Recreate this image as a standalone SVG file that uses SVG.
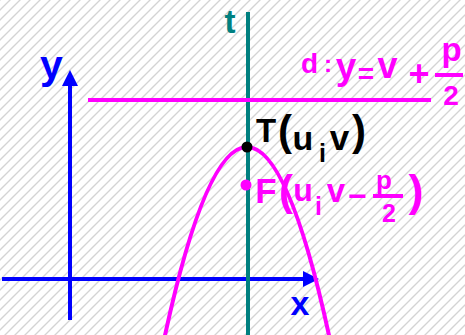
<svg xmlns="http://www.w3.org/2000/svg" width="465" height="335" viewBox="0 0 465 335">
<style>
text{font-family:"Liberation Sans","DejaVu Sans",sans-serif;font-weight:bold;text-anchor:middle}
.blue{fill:#0000ff}
.mag{fill:#ff00ff}
.blk{fill:#000000}
.teal{fill:#008080}
</style>
<defs>
<pattern id="hatch" patternUnits="userSpaceOnUse" width="10" height="10">
<path d="M-1,11 L11,-1 M-6,6 L6,-6 M4,16 L16,4" stroke="#d4d4d4" stroke-width="1.4"/>
</pattern>
<marker id="arr" viewBox="0 0 16 16" refX="0" refY="8" markerWidth="16" markerHeight="16" markerUnits="userSpaceOnUse" orient="auto">
<path d="M0,0 L16,8 L0,16 Z" fill="#0000ff"/>
</marker>
</defs>
<rect width="465" height="335" fill="#ffffff"/>
<rect width="465" height="335" fill="url(#hatch)"/>
<g id="connectors">
<line id="x-axis" x1="2" y1="279" x2="303" y2="279" stroke="#0000ff" stroke-width="4" marker-end="url(#arr)"/>
<line id="y-axis" x1="70" y1="320" x2="70" y2="86" stroke="#0000ff" stroke-width="4" marker-end="url(#arr)"/>
<line id="t-axis" x1="248" y1="12" x2="248" y2="335" stroke="#008080" stroke-width="4"/>
<line id="d-line" x1="88" y1="100" x2="431" y2="100" stroke="#ff00ff" stroke-width="4"/>
<path id="parabola" d="M164,339.9 Q247,-45.9 330,339.9" fill="none" stroke="#ff00ff" stroke-width="4"/>
</g>
<g id="label-y"><text class="blue" x="51.5" y="79.4" font-size="41">y</text></g>
<g id="label-x"><text class="blue" x="300" y="315" font-size="34">x</text></g>
<g id="label-t"><text class="teal" x="230" y="33" font-size="33">t</text></g>
<g id="label-d">
<text class="mag" x="309.5" y="73" font-size="28">d</text>
<text class="mag" x="328" y="72" font-size="24">:</text>
<text class="mag" x="346" y="79" font-size="37">y</text>
<text class="mag" x="366" y="83" font-size="28">=</text>
<text class="mag" x="387.5" y="78" font-size="36">v</text>
<text class="mag" x="419" y="86" font-size="36">+</text>
<text class="mag" x="451.5" y="61" font-size="33">p</text>
<rect x="435" y="73" width="28" height="4" fill="#ff00ff"/>
<text class="mag" x="451" y="105" font-size="28">2</text>
</g>
<g id="node-T">
<circle cx="247" cy="147" r="5.5" fill="#000000"/>
<text class="blk" x="266" y="142" font-size="33">T</text>
<text class="blk" x="285" y="145" font-size="42">(</text>
<text class="blk" x="303" y="150" font-size="34">u</text>
<text class="blk" x="322.5" y="162" font-size="25">i</text>
<text class="blk" x="339.5" y="150" font-size="35">v</text>
<text class="blk" x="359" y="145" font-size="42">)</text>
</g>
<g id="node-F">
<circle cx="246" cy="185" r="5.5" fill="#ff00ff"/>
<text class="mag" x="266" y="203" font-size="35">F</text>
<text class="mag" x="286" y="205" font-size="42">(</text>
<text class="mag" x="303" y="201" font-size="32">u</text>
<text class="mag" x="318.5" y="215" font-size="25">i</text>
<text class="mag" x="336" y="202" font-size="33">v</text>
<text class="mag" x="357.5" y="207" font-size="32">−</text>
<text class="mag" x="384" y="188.5" font-size="26">p</text>
<rect x="373" y="194" width="30" height="4" fill="#ff00ff"/>
<text class="mag" x="389" y="222" font-size="25">2</text>
<text class="mag" x="416" y="205.5" font-size="45">)</text>
</g>
</svg>
